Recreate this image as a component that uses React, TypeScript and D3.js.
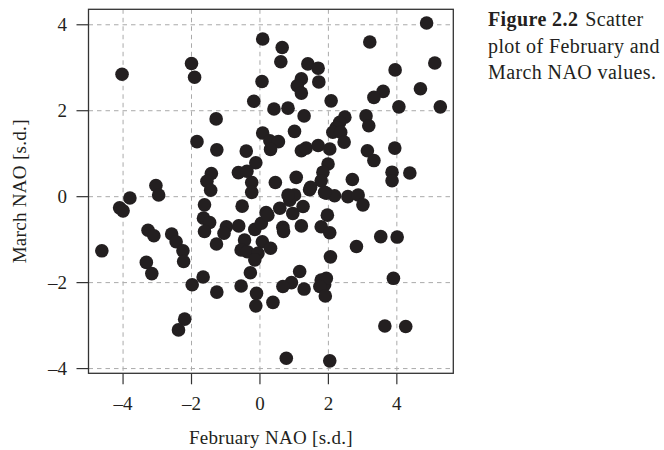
import React from 'react';
import * as d3 from 'd3';

// February / March NAO values
const febNAO = [
  0.08, -4.03, -2.0, -1.91, 0.06, -0.18, 0.41, -1.28, -1.84, -1.26,
  -0.4, 0.08, 0.29, 0.54, 0.31, -0.12, -0.63, -0.38, -0.24, -0.24,
  -1.42, -1.55, -1.44, -3.04, -2.96, -3.8, -4.1, -4.0, 0.45, -4.62,
  -3.27, -3.1, -3.32, -3.16, -2.58, -2.45, -2.25, -2.23, -2.2, -2.38,
  -1.98, -1.66, -1.26, -1.62, -1.65, -1.47, -1.62, -1.27, -0.98, -1.05,
  -0.62, -0.52, -0.45, -0.55, -0.37, -0.15, 0.04, 0.18, 0.07, -0.06,
  -0.15, -0.28, -0.55, -0.1, -0.12, 0.38, 0.31, 0.23, 0.67, 0.69,
  0.58, 0.87, 1.01, 0.96, 1.21, 1.26, 1.45, 1.94, 2.18, 2.57,
  2.87, 3.01, 1.97, 1.79, 2.04, 2.82, 3.53, 4.01, 2.06, 1.16,
  0.92, 0.67, 1.29, 1.79, 1.89, 1.94, 1.75, 1.91, 3.9, 3.65,
  4.26, 0.77, 2.04, 4.87, 3.21, 0.65, 0.61, 1.4, 1.7, 1.72,
  1.21, 1.09, 1.21, 5.11, 3.95, 4.69, 3.6, 3.33, 2.08, 4.06,
  5.27, 0.82, 1.29, 1.01, 2.48, 2.33, 2.23, 2.13, 2.36, 2.46,
  3.1, 3.18, 3.94, 1.21, 1.35, 1.7, 2.04, 3.14, 3.33, 1.99,
  1.84, 1.79, 1.06, 1.48, 2.7, 3.86, 3.86, 4.38, 1.89, 0.82,
];
const marNAO = [
  3.67, 2.85, 3.1, 2.78, 2.68, 2.22, 2.04, 1.81, 1.28, 1.09,
  1.06, 1.48, 1.3, 1.28, 1.1, 0.79, 0.56, 0.59, 0.33, 0.1,
  0.54, 0.36, 0.15, 0.26, 0.04, -0.03, -0.26, -0.33, 0.33, -1.26,
  -0.78, -0.91, -1.53, -1.79, -0.87, -1.05, -1.26, -1.51, -2.85, -3.1,
  -2.05, -1.87, -2.22, -0.19, -0.5, -0.6, -0.81, -1.1, -0.7, -0.85,
  -0.68, -0.22, -1.01, -1.24, -1.28, -0.76, -0.62, -0.37, -1.05, -1.32,
  -1.47, -1.77, -2.08, -2.25, -2.54, -2.46, -1.2, -0.43, -0.71, -0.81,
  -0.27, -0.08, 0.04, -0.39, -0.68, -0.23, 0.16, 0.08, 0.02, 0.0,
  0.04, -0.19, -0.43, -0.7, -0.84, -1.16, -0.93, -0.94, -1.4, -1.74,
  -2.0, -2.09, -2.15, -1.94, -2.05, -1.9, -2.09, -2.31, -1.9, -3.01,
  -3.02, -3.76, -3.82, 4.04, 3.6, 3.47, 3.14, 3.09, 2.99, 2.67,
  2.74, 2.58, 2.41, 3.11, 2.95, 2.51, 2.45, 2.31, 2.23, 2.09,
  2.09, 2.06, 1.88, 1.52, 1.85, 1.73, 1.61, 1.5, 1.5, 1.27,
  1.88, 1.65, 1.13, 1.07, 1.13, 1.19, 1.11, 1.07, 0.84, 0.76,
  0.57, 0.37, 0.45, 0.22, 0.4, 0.57, 0.37, 0.55, 0.1, 0.04,
];
const xTicks = [-4, -2, 0, 2, 4];
const yTicks = [-4, -2, 0, 2, 4];
const captionLines = ['plot of February and', 'March NAO values.'];

const W = 664, H = 450;
const box = { left: 88.5, right: 453.3, top: 9.3, bottom: 373.3 };
const font = '"Liberation Serif", serif';
const ink = '#231f20';

const fmt = (v: number) => (v < 0 ? '\u2013' + Math.abs(v) : String(v));

export default function App() {
  const x = d3.scaleLinear().domain([-5.01, 5.65]).range([box.left, box.right]);
  const y = d3.scaleLinear().domain([-4.11, 4.36]).range([box.bottom, box.top]);
  const pts = febNAO.map((f, i) => [f, marNAO[i]]);

  return (
    <svg width={W} height={H} style={{ position: 'absolute', left: 0, top: 0, background: '#fff' }}>
      {/* grid */}
      <g stroke="#aaa" strokeWidth={1} strokeDasharray="4.5,4">
        {xTicks.map(t => (
          <line key={'gx' + t} x1={x(t)} x2={x(t)} y1={box.top} y2={box.bottom} />
        ))}
        {yTicks.map(t => (
          <line key={'gy' + t} x1={box.left} x2={box.right} y1={y(t)} y2={y(t)} />
        ))}
      </g>

      {/* points */}
      <g fill={ink}>
        {pts.map((d, i) => (
          <circle key={i} cx={x(d[0])} cy={y(d[1])} r={6.8} />
        ))}
      </g>

      {/* frame */}
      <rect x={box.left} y={box.top} width={box.right - box.left} height={box.bottom - box.top}
        fill="none" stroke="#333" strokeWidth={1.3} />

      {/* axes ticks */}
      <g stroke="#333" strokeWidth={1.2}>
        {xTicks.map(t => (
          <line key={'tx' + t} x1={x(t)} x2={x(t)} y1={box.bottom} y2={box.bottom + 11} />
        ))}
        {yTicks.map(t => (
          <line key={'ty' + t} x1={box.left} x2={box.left - 12} y1={y(t)} y2={y(t)} />
        ))}
      </g>
      <g fontFamily={font} fontSize={19} fill={ink}>
        {xTicks.map(t => (
          <text key={'lx' + t} x={x(t)} y={410} textAnchor="middle">{fmt(t)}</text>
        ))}
        {yTicks.map(t => (
          <text key={'ly' + t} x={67} y={y(t) + 6.5} textAnchor="end">{fmt(t)}</text>
        ))}
        <text x={(box.left + box.right) / 2} y={444} textAnchor="middle" letterSpacing={0.3}>
          February NAO [s.d.]
        </text>
        <text transform={`translate(26,${(box.top + box.bottom) / 2}) rotate(-90)`} textAnchor="middle"
          letterSpacing={0.3}>
          March NAO [s.d.]
        </text>
      </g>

      {/* caption */}
      <g fontFamily={font} fontSize={20} fill={ink} letterSpacing={0.4}>
        <text x={488} y={26}>
          <tspan fontWeight="bold">Figure 2.2</tspan>
          <tspan dx={7}>Scatter</tspan>
        </text>
        {captionLines.map((l, i) => (
          <text key={l} x={488} y={52.5 + i * 26.5}>{l}</text>
        ))}
      </g>
    </svg>
  );
}
